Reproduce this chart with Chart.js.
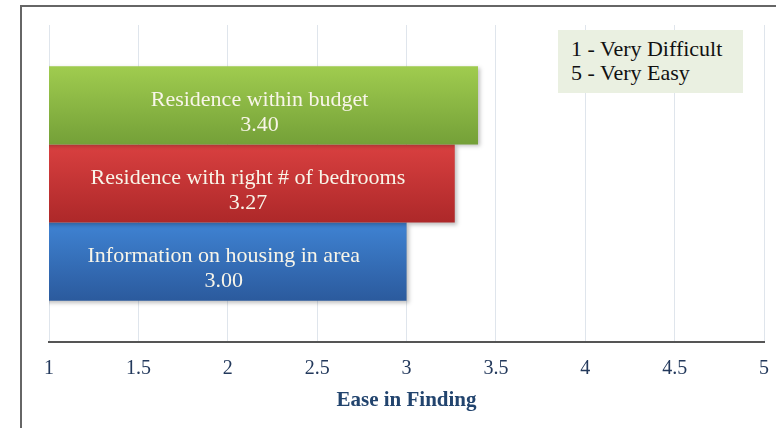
<!DOCTYPE html>
<html>
<head>
<meta charset="utf-8">
<script src="https://cdn.jsdelivr.net/npm/chart.js@4"></script>
<style>
  html, body { margin: 0; padding: 0; background: #fff; overflow: hidden; }
  #wrap { position: relative; width: 776px; height: 428px; }
  #frame {
    position: absolute; left: 20px; top: 5px; width: 800px; height: 460px;
    border: 2px solid #666; box-sizing: border-box;
  }
  #key {
    position: absolute; left: 558px; top: 30px; width: 185px; height: 63px;
    background: #eaf0e1; box-sizing: border-box; padding: 7px 0 0 13px;
    font: 22px "Liberation Serif", serif; line-height: 24px; color: #111;
  }
  canvas { position: absolute; left: 0; top: 0; }
</style>
</head>
<body>
<div id="wrap">
  <div id="frame"></div>
  <canvas id="chart" width="776" height="428"></canvas>
  <div id="key">1 - Very Difficult<br>5 - Very Easy</div>
</div>
<script>
// bars top to bottom
const categories = [
  "Residence within budget",
  "Residence with right # of bedrooms",
  "Information on housing in area"
];
const values = [3.40, 3.27, 3.00];
const xTicks = [1, 1.5, 2, 2.5, 3, 3.5, 4, 4.5, 5];
const axisTitle = "Ease in Finding";

// [top, bottom] of the vertical gradient
const barColors = [
  ["#a0cc4f", "#74a038"],
  ["#d94040", "#ad2829"],
  ["#3f83d3", "#2b5a9d"]
];

const barStyle = {
  id: "barStyle",
  beforeDatasetsDraw(chart) {
    const ctx = chart.ctx;
    chart.data.datasets.forEach((ds, i) => {
      chart.getDatasetMeta(i).data.forEach(bar => {
        const top = bar.y - bar.height / 2;
        const g = ctx.createLinearGradient(0, top, 0, top + bar.height);
        g.addColorStop(0, barColors[i][0]);
        g.addColorStop(1, barColors[i][1]);
        bar.options.backgroundColor = g;
      });
    });
    ctx.save();
    ctx.shadowColor = "rgba(0,0,0,0.25)";
    ctx.shadowBlur = 4;
    ctx.shadowOffsetX = 2;
    ctx.shadowOffsetY = 2;
  },
  afterDatasetsDraw(chart) {
    const ctx = chart.ctx;
    const left = chart.scales.x.getPixelForValue(xTicks[0]);
    ctx.restore();
    ctx.save();
    ctx.fillStyle = "#f8f5e9";
    ctx.font = '22px "Liberation Serif", serif';
    ctx.textAlign = "center";
    ctx.textBaseline = "middle";
    chart.data.datasets.forEach((ds, i) => {
      chart.getDatasetMeta(i).data.forEach((bar, j) => {
        const cx = (left + bar.x) / 2 - 4;
        ctx.fillText(ds.label, cx, bar.y - 5);
        ctx.fillText(ds.data[j].toFixed(2), cx, bar.y + 20);
      });
    });
    ctx.restore();
  }
};

new Chart(document.getElementById("chart"), {
  type: "bar",
  data: {
    labels: [""],
    datasets: categories.map((name, i) => ({
      label: name,
      data: [values[i]],
      backgroundColor: barColors[i][0],
      borderWidth: 0,
      categoryPercentage: 0.74,
      barPercentage: 1
    }))
  },
  options: {
    indexAxis: "y",
    responsive: false,
    animation: false,
    layout: { padding: { left: 49, right: 12, top: 25, bottom: 0 } },
    plugins: {
      legend: { display: false },
      tooltip: { enabled: false }
    },
    scales: {
      y: { display: false },
      x: {
        min: xTicks[0],
        max: xTicks[xTicks.length - 1],
        afterBuildTicks(scale) {
          scale.ticks = xTicks.map(v => ({ value: v }));
        },
        afterFit(scale) {
          scale.height = 86;
          scale.paddingLeft = 0;
          scale.paddingRight = 0;
        },
        grid: { color: "#dfe5ec", drawTicks: false },
        border: { color: "#555", width: 2 },
        ticks: {
          padding: 15,
          color: "#23395c",
          font: { family: "Liberation Serif", size: 20 },
          callback: v => String(v)
        },
        title: {
          display: true,
          text: axisTitle,
          color: "#22446e",
          padding: { top: 0, bottom: 15 },
          font: { family: "Liberation Serif", size: 21, weight: "bold" }
        }
      }
    }
  },
  plugins: [barStyle]
});
</script>
</body>
</html>
